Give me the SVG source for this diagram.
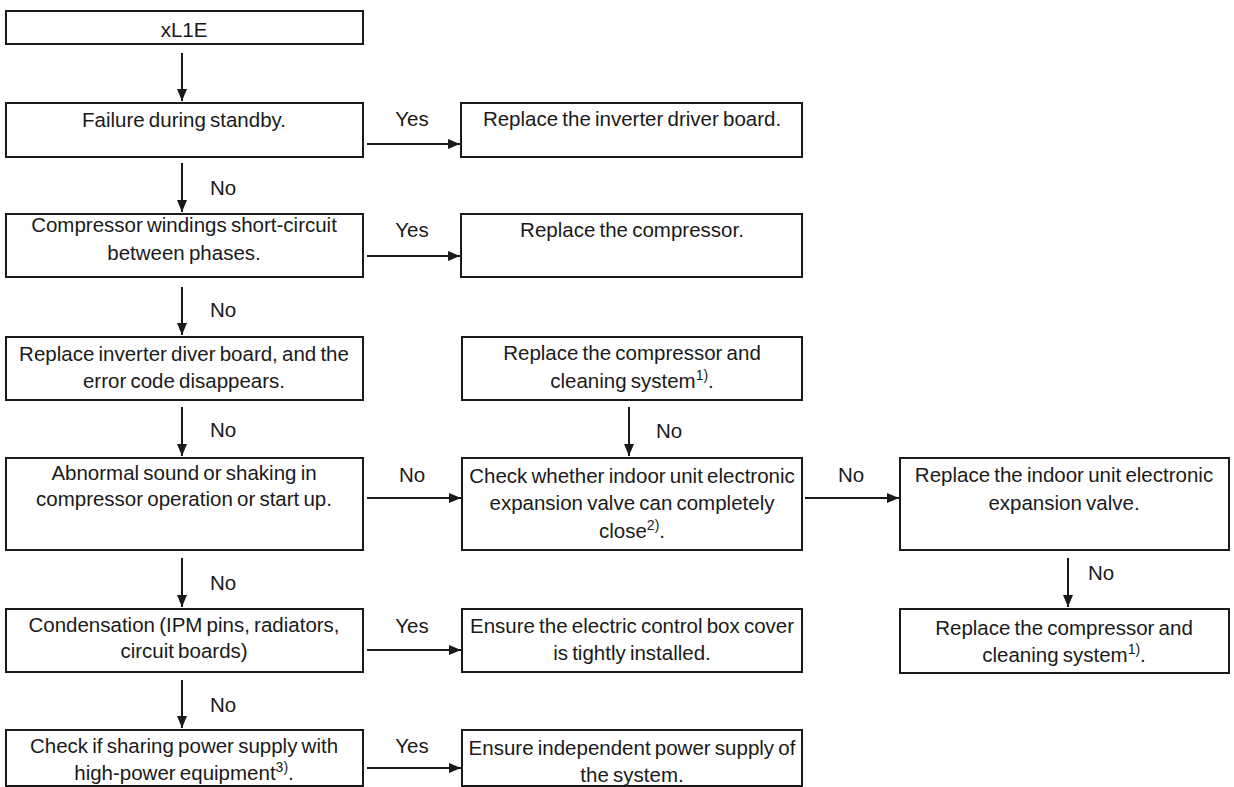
<svg xmlns="http://www.w3.org/2000/svg" width="1234" height="787" viewBox="0 0 1234 787">
<defs>
<style>
.box{fill:#fff;stroke:#1a1a1a;stroke-width:2}
.t{font-family:"Liberation Sans",Arial,sans-serif;font-size:20.5px;word-spacing:-1.5px;fill:#1a1a1a;text-anchor:middle}
.l{font-family:"Liberation Sans",Arial,sans-serif;font-size:20.5px;fill:#1a1a1a}
.c{stroke:#1a1a1a;stroke-width:2;fill:none;marker-end:url(#ah)}
.sup{font-size:14px}
</style>
<marker id="ah" markerUnits="userSpaceOnUse" markerWidth="12" markerHeight="10" refX="12" refY="5" orient="auto">
<path d="M0,0 L12,5 L0,10 z" fill="#1a1a1a"/>
</marker>
</defs>
<rect width="1234" height="787" fill="#fff"/>

<g id="connectors">
<line class="c" x1="182" y1="53" x2="182" y2="101"/>
<line class="c" x1="182" y1="163" x2="182" y2="212"/>
<line class="c" x1="182" y1="287" x2="182" y2="335"/>
<line class="c" x1="182" y1="407" x2="182" y2="456"/>
<line class="c" x1="182" y1="558" x2="182" y2="607"/>
<line class="c" x1="182" y1="680" x2="182" y2="728"/>
<line class="c" x1="629" y1="407" x2="629" y2="456"/>
<line class="c" x1="1068" y1="558" x2="1068" y2="607"/>
<line class="c" x1="367" y1="144" x2="460" y2="144"/>
<line class="c" x1="367" y1="256" x2="460" y2="256"/>
<line class="c" x1="367" y1="498" x2="461" y2="498"/>
<line class="c" x1="805" y1="498" x2="899" y2="498"/>
<line class="c" x1="367" y1="650" x2="461" y2="650"/>
<line class="c" x1="367" y1="768" x2="461" y2="768"/>
<text class="l" x="412" y="126" text-anchor="middle">Yes</text>
<text class="l" x="412" y="237" text-anchor="middle">Yes</text>
<text class="l" x="412" y="482" text-anchor="middle">No</text>
<text class="l" x="851" y="482" text-anchor="middle">No</text>
<text class="l" x="412" y="633" text-anchor="middle">Yes</text>
<text class="l" x="412" y="753" text-anchor="middle">Yes</text>
<text class="l" x="210" y="195">No</text>
<text class="l" x="210" y="317">No</text>
<text class="l" x="210" y="437">No</text>
<text class="l" x="210" y="590">No</text>
<text class="l" x="210" y="712">No</text>
<text class="l" x="656" y="438">No</text>
<text class="l" x="1088" y="580">No</text>
</g>

<g id="n-start">
<rect class="box" x="6" y="11" width="357" height="33"/>
<text class="t" x="184" y="37">xL1E</text>
</g>
<g id="n-standby">
<rect class="box" x="6" y="103" width="357" height="54"/>
<text class="t" x="184" y="127">Failure during standby.</text>
</g>
<g id="n-replace-driver">
<rect class="box" x="461" y="103" width="341" height="54"/>
<text class="t" x="632" y="126">Replace the inverter driver board.</text>
</g>
<g id="n-windings">
<rect class="box" x="6" y="214" width="357" height="63"/>
<text class="t" x="184" y="232">Compressor windings short-circuit</text>
<text class="t" x="184" y="260">between phases.</text>
</g>
<g id="n-replace-compressor">
<rect class="box" x="461" y="214" width="341" height="63"/>
<text class="t" x="632" y="237">Replace the compressor.</text>
</g>
<g id="n-replace-diver">
<rect class="box" x="6" y="337" width="357" height="63"/>
<text class="t" x="184" y="361">Replace inverter diver board, and the</text>
<text class="t" x="184" y="388">error code disappears.</text>
</g>
<g id="n-replace-cleaning-1">
<rect class="box" x="462" y="337" width="340" height="63"/>
<text class="t" x="632" y="360">Replace the compressor and</text>
<text class="t" x="632" y="388">cleaning system<tspan class="sup" dy="-8">1)</tspan><tspan dy="8">.</tspan></text>
</g>
<g id="n-abnormal">
<rect class="box" x="6" y="458" width="357" height="92"/>
<text class="t" x="184" y="480">Abnormal sound or shaking in</text>
<text class="t" x="184" y="506">compressor operation or start up.</text>
</g>
<g id="n-check-valve">
<rect class="box" x="462" y="458" width="340" height="92"/>
<text class="t" x="632" y="483">Check whether indoor unit electronic</text>
<text class="t" x="632" y="510">expansion valve can completely</text>
<text class="t" x="632" y="538">close<tspan class="sup" dy="-8">2)</tspan><tspan dy="8">.</tspan></text>
</g>
<g id="n-replace-valve">
<rect class="box" x="900" y="458" width="329" height="92"/>
<text class="t" x="1064" y="482">Replace the indoor unit electronic</text>
<text class="t" x="1064" y="510">expansion valve.</text>
</g>
<g id="n-condensation">
<rect class="box" x="6" y="609" width="357" height="63"/>
<text class="t" x="184" y="632">Condensation (IPM pins, radiators,</text>
<text class="t" x="184" y="658">circuit boards)</text>
</g>
<g id="n-cover">
<rect class="box" x="462" y="609" width="340" height="63"/>
<text class="t" x="632" y="633">Ensure the electric control box cover</text>
<text class="t" x="632" y="660">is tightly installed.</text>
</g>
<g id="n-replace-cleaning-2">
<rect class="box" x="900" y="609" width="329" height="64"/>
<text class="t" x="1064" y="635">Replace the compressor and</text>
<text class="t" x="1064" y="662">cleaning system<tspan class="sup" dy="-8">1)</tspan><tspan dy="8">.</tspan></text>
</g>
<g id="n-power-share">
<rect class="box" x="6" y="730" width="357" height="56"/>
<text class="t" x="184" y="753">Check if sharing power supply with</text>
<text class="t" x="184" y="780">high-power equipment<tspan class="sup" dy="-8">3)</tspan><tspan dy="8">.</tspan></text>
</g>
<g id="n-power-independent">
<rect class="box" x="462" y="730" width="340" height="56"/>
<text class="t" x="632" y="755">Ensure independent power supply of</text>
<text class="t" x="632" y="782">the system.</text>
</g>
</svg>
